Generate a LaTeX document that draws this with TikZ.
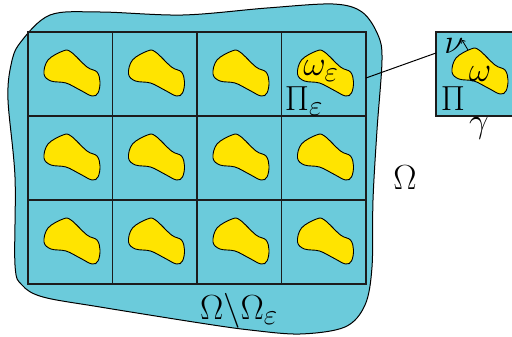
\documentclass[tikz,border=0pt]{standalone}
\usetikzlibrary{arrows.meta}
\definecolor{domain}{RGB}{107,203,219}
\definecolor{inclc}{RGB}{255,228,0}
\definecolor{gridc}{RGB}{28,28,28}
\newcommand{\bigtxt}[1]{\scalebox{1.4}{\Huge #1}}
\tikzset{
  inclusion/.pic={
    \filldraw[fill=inclc, draw=black, line width=0.9pt]
      plot[smooth cycle, tension=0.6] coordinates {
        (16,42) (20,28) (35,19) (43,20) (59,35) (69,40) (72,50)
        (70,61) (64,64) (52,58) (38,51) (23,49)};
  },
  gridline/.style={draw=gridc, line width=1.6pt},
  gridouter/.style={draw=gridc, line width=2.4pt},
  lab/.style={inner sep=0pt},
}
\begin{document}
\begin{tikzpicture}[x=1pt,y=-1pt]
\useasboundingbox (0,0) rectangle (512,337);
% outer domain
\draw[fill=domain, line width=1pt] plot[smooth cycle, tension=0.55] coordinates {
  (20,43) (50,15) (100,12) (183,15) (267,8) (333,4) (362,12) (378,35)
  (382,60) (377,130) (373,200) (372,267) (365,305) (345,327) (300,334)
  (250,330) (200,323) (100,307) (43,297) (22,285) (15,265) (15,177)
  (8,100) (11,65)};
% cells
\foreach \i in {0,1,2,3}{
  \foreach \j in {0,1,2}{
    \pic at ({28+84.5*\i},{32+84*\j}) {inclusion};
  }
}
\foreach \x in {112.5,197,281.5}{
  \draw[gridline] (\x,32) -- (\x,284);
}
\foreach \y in {116,200}{
  \draw[gridline] (28,\y) -- (366,\y);
}
\draw[gridouter] (28,32) rectangle (366,284);
% inset
\draw[fill=domain, draw=gridc, line width=1.6pt] (436,32) rectangle (513,116);
\pic at (436,30) {inclusion};
\coordinate (zA) at (366,78);
\coordinate (zB) at (436,53);
\draw[line width=1pt] (zA) -- (zB);
\coordinate (nA) at (468,50);
\coordinate (nB) at (462,40);
\draw[line width=0.8pt, -{To[length=3pt,width=5pt]}] (nA) -- (nB);
% labels
\node[lab] (oe) at (321,71) {\bigtxt{$\omega_\varepsilon$}};
\node[lab] (Pe) at (304,101) {\bigtxt{$\Pi_\varepsilon$}};
\node[lab] (Om) at (405,178) {\bigtxt{$\Omega$}};
\node[lab] (OmOe) at (239,311) {\bigtxt{$\Omega\backslash\Omega_\varepsilon$}};
\node[lab] (w) at (480,74) {\bigtxt{$\omega$}};
\node[lab] (nu) at (454,46) {\bigtxt{$\nu$}};
\node[lab] (P) at (453,99) {\bigtxt{$\Pi$}};
\node[lab] (g) at (479,128) {\bigtxt{$\gamma$}};
\end{tikzpicture}
\end{document}
